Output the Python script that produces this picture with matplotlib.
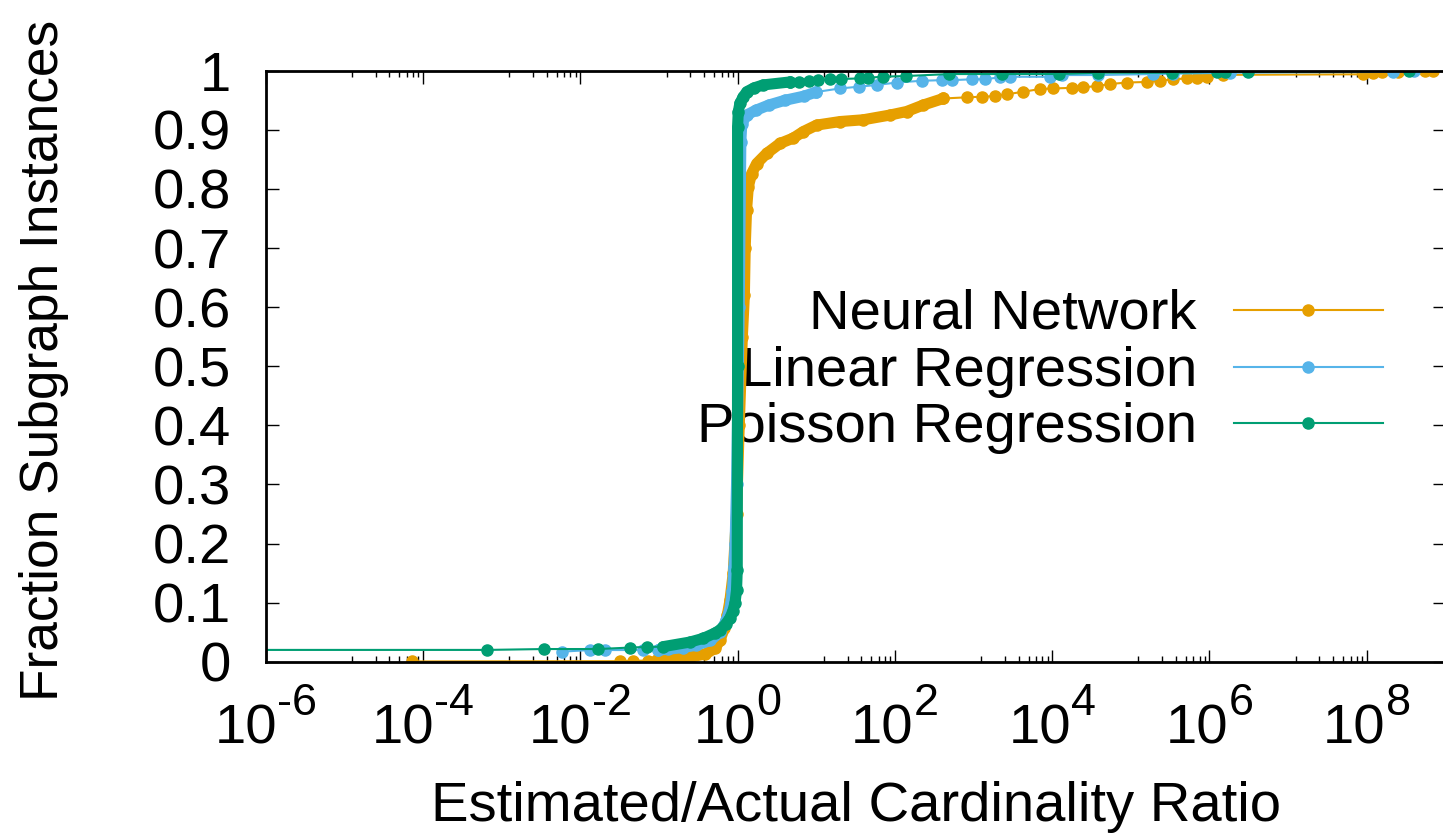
import matplotlib
matplotlib.use('Agg')
import matplotlib.pyplot as plt
import matplotlib.transforms as mtrans
import numpy as np

plt.rcParams['font.family'] = ['Liberation Sans', 'DejaVu Sans']

FS = 40.5

# ---- data (ratio, cumulative fraction) ----
# Neural Network
nn_low_x = [7.2e-5, 0.032, 0.047, 0.073, 0.094]
nn_low_y = [0.0005, 0.001, 0.0015, 0.002, 0.003]
nn_body_x = [0.094, 0.12, 0.25, 0.39, 0.52, 0.60, 0.68, 0.74, 0.80, 0.88, 0.97,
             1.05, 1.15, 1.22, 1.25, 1.30, 1.37, 1.51, 1.75, 2.34, 3.46, 5.1,
             6.84, 10.1, 20.1, 39.6, 86.6, 141, 230, 412]
nn_body_y = [0.003, 0.005, 0.008, 0.013, 0.023, 0.037, 0.057, 0.079, 0.104, 0.15, 0.25,
             0.40, 0.55, 0.62, 0.70, 0.764, 0.804, 0.826, 0.843, 0.86, 0.877, 0.886,
             0.897, 0.908, 0.914, 0.917, 0.925, 0.931, 0.942, 0.953]
nn_x = [412, 818, 1270, 1875, 2640, 4290, 7000, 10300, 17700, 24900, 36800, 54300,
        88500, 1.59e5, 2.35e5, 3.47e5, 5.13e5, 6.87e5, 9.2e5, 1.5e6, 9.0e7, 1.21e8,
        1.55e8, 2.5e8, 5.5e8, 7.0e8]
nn_y = [0.953, 0.955, 0.956, 0.957, 0.960, 0.9645, 0.969, 0.970, 0.971, 0.972, 0.974,
        0.9775, 0.980, 0.981, 0.983, 0.9855, 0.987, 0.987, 0.990, 0.993, 0.994, 0.9956,
        0.997, 0.998, 0.9995, 1.0]

# Linear Regression
lr_low_x = [5.8e-3, 1.33e-2, 2.06e-2, 6.3e-2, 9.8e-2]
lr_low_y = [0.017, 0.0198, 0.0198, 0.0198, 0.020]
lr_body_x = [0.098, 0.13, 0.2, 0.3, 0.45, 0.6, 0.72, 0.8, 0.86, 0.9, 0.93, 0.97,
             1.05, 1.10, 1.13, 1.3, 1.7, 2.5, 4, 7, 10]
lr_body_y = [0.020, 0.021, 0.024, 0.028, 0.036, 0.05, 0.07, 0.09, 0.12, 0.16, 0.2, 0.3,
             0.6, 0.88, 0.91, 0.925, 0.933, 0.942, 0.950, 0.957, 0.964]
lr_x = [10, 20, 35, 60, 105, 218, 394, 527, 948, 1400, 2170, 2900, 9380, 13200,
        38500, 1.93e5, 3.47e5, 1.82e6, 2.17e8, 4.0e8]
lr_y = [0.964, 0.970, 0.973, 0.976, 0.980, 0.983, 0.984, 0.984, 0.9855, 0.9855, 0.989,
        0.9898, 0.9898, 0.9927, 0.9927, 0.9944, 0.995, 0.9966, 0.998, 1.0]

# Poisson Regression
pr_low_x = [1e-8, 6.6e-4, 3.5e-3, 1.7e-2, 4.3e-2, 7.0e-2]
pr_low_y = [0.020, 0.020, 0.0215, 0.0215, 0.024, 0.025]
pr_body_x = [0.112, 0.248, 0.366, 0.516, 0.596, 0.708, 0.80, 0.87, 0.926, 0.97, 0.99,
             1.0, 1.0, 1.02, 1.07, 1.17, 1.31, 1.62, 2.12, 4.64]
pr_body_y = [0.0254, 0.0333, 0.0396, 0.0486, 0.0536, 0.0638, 0.074, 0.0858, 0.099,
             0.121, 0.155, 0.5, 0.905, 0.93, 0.945, 0.955, 0.9645, 0.971, 0.976, 0.981]
pr_x = [4.64, 6.04, 8.0, 10.5, 14.8, 20.7, 36, 45.6, 70.7, 138, 492, 2280, 12200,
        38500, 3.36e5, 1.26e6, 1.57e6, 3.06e6, 3.4e8]
pr_y = [0.981, 0.981, 0.9826, 0.984, 0.9855, 0.986, 0.987, 0.988, 0.990, 0.991, 0.9944,
        0.9944, 0.9945, 0.9966, 0.9966, 0.998, 0.998, 0.998, 1.0]

labels = ['Neural Network', 'Linear Regression', 'Poisson Regression']
colors = ['#E69F00', '#56B4E9', '#009E73']

x_major = [1e-6, 1e-4, 1e-2, 1e0, 1e2, 1e4, 1e6, 1e8]
x_exps = ['-6', '-4', '-2', '0', '2', '4', '6', '8']
y_ticks = [0, 0.1, 0.2, 0.3, 0.4, 0.5, 0.6, 0.7, 0.8, 0.9, 1]
y_labels = ['0', '0.1', '0.2', '0.3', '0.4', '0.5', '0.6', '0.7', '0.8', '0.9', '1']

fig = plt.figure(figsize=(14.43, 8.33), dpi=100)
ax = fig.add_axes([0.1841, 0.2056, 0.8176, 0.7095])

series = [
    (nn_low_x, nn_low_y, nn_body_x, nn_body_y, nn_x, nn_y),
    (lr_low_x, lr_low_y, lr_body_x, lr_body_y, lr_x, lr_y),
    (pr_low_x, pr_low_y, pr_body_x, pr_body_y, pr_x, pr_y),
]
for i, (lx, ly, bx, by, sx, sy) in enumerate(series):
    c = colors[i]
    z = 3 + i
    ax.plot(lx + bx + sx, ly + by + sy, '-', color=c, lw=1.5, marker='o', ms=8,
            mec=c, mfc=c, zorder=z)
    # dense part of the curve: overlapping points form a solid band
    ax.plot(bx, by, '-', color=c, lw=8, solid_capstyle='round',
            solid_joinstyle='round', zorder=z)

ax.set_xscale('log')
ax.set_xlim(1e-6, 1e9)
ax.set_ylim(0, 1)

minor = []
for m in x_major + [1e10]:
    for k in range(1, 8):
        minor.append(m * 12.5 * k)
ax.xaxis.set_major_locator(matplotlib.ticker.FixedLocator(x_major))
ax.xaxis.set_minor_locator(matplotlib.ticker.FixedLocator(minor))
ax.xaxis.set_major_formatter(matplotlib.ticker.NullFormatter())
ax.xaxis.set_minor_formatter(matplotlib.ticker.NullFormatter())
ax.set_yticks(y_ticks)
ax.set_yticklabels(y_labels)

ax.tick_params(which='major', direction='in', length=9, width=1, top=True, right=True,
               labelsize=FS, color='black')
ax.tick_params(which='minor', direction='in', length=4.5, width=1, top=True, right=True)
ax.tick_params(axis='y', which='major', pad=25)
for s in ax.spines.values():
    s.set_linewidth(2)
    s.set_zorder(10)

# x tick labels in gnuplot style: "10" with a raised, smaller exponent
renderer = fig.canvas.get_renderer()
base_tr = ax.get_xaxis_transform()
px2pt = 72.0 / fig.dpi
for xm, e in zip(x_major, x_exps):
    t1 = ax.text(xm, 0, '10', fontsize=FS, ha='left', va='baseline',
                 transform=base_tr, clip_on=False)
    t2 = ax.text(xm, 0, e, fontsize=FS * 0.8, ha='left', va='baseline',
                 transform=base_tr, clip_on=False)
    w1 = t1.get_window_extent(renderer).width
    w2 = t2.get_window_extent(renderer).width
    left = -(w1 + w2) / 2.0
    t1.set_transform(base_tr + mtrans.ScaledTranslation(left * px2pt / 72, -81.3 * px2pt / 72,
                                                         fig.dpi_scale_trans))
    t2.set_transform(base_tr + mtrans.ScaledTranslation((left + w1) * px2pt / 72,
                                                         -53.3 * px2pt / 72,
                                                         fig.dpi_scale_trans))

ax.set_xlabel('Estimated/Actual Cardinality Ratio', fontsize=FS)
ax.set_ylabel('Fraction Subgraph Instances', fontsize=38.3)
ax.xaxis.set_label_coords(0.5, -0.201)
ax.yaxis.set_label_coords(-0.1665, 0.5105)

# key
rows = [0.595, 0.4987, 0.404]
for i in range(3):
    r = rows[i]
    ax.text(0.7894, r - 0.032, labels[i], transform=ax.transAxes, ha='right',
            va='baseline', fontsize=FS, zorder=1)
    ax.plot([0.8207, 0.947], [r, r], '-', color=colors[i], lw=1.5,
            transform=ax.transAxes, zorder=2)
    ax.plot([0.8837], [r], 'o', color=colors[i], ms=8, transform=ax.transAxes, zorder=2)

fig.savefig('out.png', dpi=100)
